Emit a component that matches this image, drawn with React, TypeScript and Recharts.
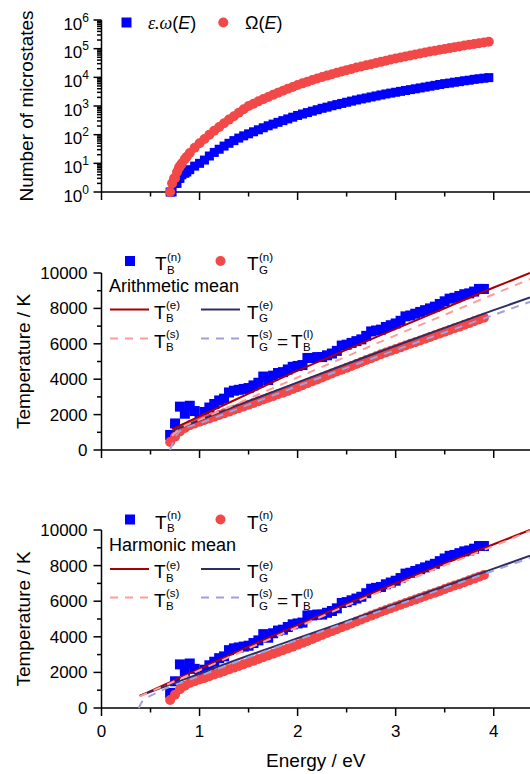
import { ComposedChart, Scatter, Line, XAxis, YAxis, Legend } from 'recharts'

const FONT = '"Liberation Sans", Arial, sans-serif'
const BLUE = '#0000FF'
const RED = '#F24848'
const DARK_RED = '#A80000'
const NAVY = '#2E2E64'
const PINK = '#FF9B9B'
const LAVENDER = '#A0A0DC'
const X_MAX = 4.37

const X_TICKS = [0, 0.5, 1, 1.5, 2, 2.5, 3, 3.5, 4]
const T_TICKS = [0, 1000, 2000, 3000, 4000, 5000, 6000, 7000, 8000, 9000, 10000]
const DECADES = [1, 10, 100, 1000, 10000, 100000]
const LOG_TICKS = [...DECADES.flatMap((d) => [1, 2, 3, 4, 5, 6, 7, 8, 9].map((m) => m * d)), 1000000]

// number of microstates
const energyN = [
  0.7, 0.75, 0.8, 0.85, 0.9, 0.95, 1, 1.05, 1.1, 1.15, 1.2, 1.25, 1.3, 1.35, 1.4, 1.45, 1.5, 1.55, 1.6, 1.65, 1.7, 1.75,
  1.8, 1.85, 1.9, 1.95, 2, 2.05, 2.1, 2.15, 2.2, 2.25, 2.3, 2.35, 2.4, 2.45, 2.5, 2.55, 2.6, 2.65, 2.7, 2.75, 2.8, 2.85,
  2.9, 2.95, 3, 3.05, 3.1, 3.15, 3.2, 3.25, 3.3, 3.35, 3.4, 3.45, 3.5, 3.55, 3.6, 3.65, 3.7, 3.75, 3.8, 3.85, 3.9, 3.95,
]
const epsOmega = [
  1, 2, 3, 4.5, 6, 8, 10, 13, 18, 24, 31, 40, 50, 62, 76, 91, 107, 126, 148, 174, 204, 234, 269, 309, 355, 407, 468, 525,
  589, 661, 741, 832, 912, 1020, 1120, 1230, 1350, 1480, 1620, 1760, 1900, 2070, 2240, 2430, 2630, 2820, 3020, 3240,
  3470, 3720, 3980, 4270, 4570, 4900, 5250, 5620, 6030, 6310, 6760, 7080, 7590, 7940, 8510, 8910, 9330, 9770,
]
const omegaE = [
  1, 3, 8, 14, 23, 35, 50, 71, 100, 138, 186, 251, 335, 442, 582, 767, 1000, 1200, 1450, 1740, 2070, 2450, 2880, 3390,
  3980, 4620, 5370, 6170, 7080, 8040, 9120, 10200, 11500, 12900, 14500, 16000, 17800, 19700, 21900, 24000, 26300,
  28800, 31600, 34700, 38000, 41700, 45200, 49000, 53100, 57500, 62400, 67600, 73300, 79400, 85100, 91200, 97700,
  104700, 112200, 120200, 128800, 138000, 146200, 154900, 164100, 173800,
]
// extra points near the threshold, where the markers crowd together
const energyStart = [0.72, 0.74, 0.77, 0.79, 0.82, 0.87]
const epsOmegaStart = [1, 2, 2, 3, 4, 5]
const omegaStart = [2, 3, 5, 7, 10, 17]

// temperatures from the numerical derivative
const energyT = energyN.slice(0, 65)
const tBn = [
  850, 1500, 2450, 2050, 2500, 2200, 1700, 2150, 2400, 2600, 2800, 2900, 3250, 3350, 3400, 3450, 3500, 3650, 3800, 4150,
  3950, 4200, 4350, 4400, 4550, 4700, 4750, 4800, 5200, 5200, 5250, 5250, 5350, 5450, 5600, 5900, 5950, 6050, 6150,
  6250, 6450, 6700, 6750, 6800, 6950, 7050, 7150, 7300, 7550, 7600, 7700, 7800, 7900, 8000, 8100, 8250, 8400, 8550,
  8600, 8700, 8800, 8850, 8950, 9100, 9100,
]
const tGn = [
  450, 750, 1050, 1250, 1400, 1500, 1600, 1690, 1780, 1880, 1975, 2070, 2170, 2270, 2365, 2460, 2560, 2655, 2755, 2850,
  2950, 3045, 3145, 3240, 3340, 3445, 3550, 3660, 3770, 3880, 3990, 4100, 4210, 4320, 4430, 4535, 4640, 4750, 4860,
  4970, 5080, 5190, 5300, 5410, 5510, 5610, 5700, 5800, 5900, 6000, 6090, 6190, 6290, 6390, 6480, 6580, 6680, 6780,
  6880, 6970, 7070, 7170, 7270, 7370, 7470,
]

// fits, arithmetic mean
const fitE_A = [0.72, 1, 1.5, 2, 2.5, 3, 3.5, 4, 4.37]
const tBe_A = [1180, 1900, 3190, 4480, 5670, 6840, 8010, 9180, 10000]
const tGe_A = [1080, 1680, 2760, 3820, 4860, 5880, 6900, 7900, 8620]
const sE_A = [0.72, 0.8, 1, 1.5, 2, 2.5, 3, 3.5, 4, 4.37]
const tBs_A = [800, 1200, 1700, 2900, 4100, 5290, 6480, 7640, 8800, 9660]
const lE_A = [0.7, 0.72, 0.75, 0.8, 1, 1.5, 2, 2.5, 3, 3.5, 4, 4.37]
const tGs_A = [0, 300, 700, 1080, 1500, 2560, 3610, 4640, 5650, 6640, 7630, 8370]

// fits, harmonic mean
const fitE_H = [0.39, 1, 1.5, 2, 2.5, 3, 3.5, 4, 4.37]
const tBe_H = [680, 2200, 3450, 4660, 5850, 7010, 8120, 9200, 10000]
const tGe_H = [680, 1930, 2950, 3920, 4880, 5850, 6840, 7830, 8550]
const tBs_H = [650, 2120, 3350, 4550, 5750, 6900, 8020, 9100, 9950]
const lE_H = [0.38, 0.42, 0.46, 0.6, 1, 1.5, 2, 2.5, 3, 3.5, 4, 4.37]
const tGs_H = [0, 400, 560, 950, 1800, 2850, 3830, 4800, 5760, 6740, 7720, 8430]

const pts = (xs: number[], ys: number[]) => xs.map((x, i) => ({ x, y: ys[i] }))

const XTick = (props: any) => {
  const { x, y, payload, showLabel } = props
  const v = payload.value
  const major = Number.isInteger(v)
  return (
    <g>
      <line x1={x} y1={y} x2={x} y2={y + (major ? 8 : 4.5)} stroke="#000" strokeWidth={1.5} />
      {showLabel && major && (
        <text x={x} y={y + 28.5} textAnchor="middle" fontSize={17} fill="#000">
          {v}
        </text>
      )}
    </g>
  )
}

const TTick = (props: any) => {
  const { x, y, payload } = props
  const v = payload.value
  const major = v % 2000 === 0
  return (
    <g>
      <line x1={x - (major ? 8 : 4.5)} y1={y} x2={x} y2={y} stroke="#000" strokeWidth={1.5} />
      {major && (
        <text x={x - 14} y={y + 6} textAnchor="end" fontSize={17} fill="#000">
          {v}
        </text>
      )}
    </g>
  )
}

const LogTick = (props: any) => {
  const { x, y, payload } = props
  const v = payload.value
  const e = Math.round(Math.log10(v))
  const major = Math.abs(v - 10 ** e) < 1e-6 * v
  return (
    <g>
      <line x1={x - (major ? 8 : 4.5)} y1={y} x2={x} y2={y} stroke="#000" strokeWidth={1.5} />
      {major && (
        <text x={x - 12.5} y={y + 9.5} textAnchor="end" fontSize={17} fill="#000">
          <tspan>10</tspan>
          <tspan dy={-8} fontSize={12}>
            {e}
          </tspan>
        </text>
      )}
    </g>
  )
}

const yTitle = (text: string, bx: number) => (props: any) => {
  const vb = props.viewBox ?? { x: 0, y: 0, width: 0, height: 0 }
  const cy = vb.y + vb.height / 2
  return (
    <text x={bx} y={cy} transform={`rotate(-90 ${bx} ${cy})`} textAnchor="middle" fontSize={19} fill="#000">
      {text}
    </text>
  )
}

const xTitle = (props: any) => {
  const vb = props.viewBox ?? { x: 0, y: 0, width: 0, height: 0 }
  return (
    <text x={vb.x + vb.width / 2} y={vb.y + 59} textAnchor="middle" fontSize={19} fill="#000">
      Energy / eV
    </text>
  )
}

const Square = (size: number) => (p: any) => (
  <rect x={p.cx - size / 2} y={p.cy - size / 2} width={size} height={size} fill={BLUE} />
)
const Dot = (p: any) => <circle cx={p.cx} cy={p.cy} r={5} fill={RED} />

// Origin-style T with stacked super- and subscript
const TSym = ({ x, y, sup, sub }: { x: number; y: number; sup: string; sub: string }) => (
  <g>
    <text x={x} y={y + 9} fontSize={19}>
      T
    </text>
    <text x={x + 12} y={y - 0.5} fontSize={11.5}>
      ({sup})
    </text>
    <text x={x + 12} y={y + 12.5} fontSize={11.5}>
      {sub}
    </text>
  </g>
)

const TopLegend = () => (
  <svg width={530} height={215} style={{ display: 'block', fontFamily: FONT }}>
    <rect x={121.5} y={17.5} width={10} height={10} fill={BLUE} />
    <text x={148} y={29.3} fontSize={18}>
      <tspan fontFamily='"Liberation Serif", serif' fontStyle="italic">
        ε.ω
      </tspan>
      (<tspan fontStyle="italic">E</tspan>)
    </text>
    <circle cx={223.3} cy={22.5} r={5} fill={RED} />
    <text x={245} y={29.3} fontSize={18}>
      Ω(<tspan fontStyle="italic">E</tspan>)
    </text>
  </svg>
)

const TempLegend = ({ rows, title, h }: { rows: number[]; title: string; h: number }) => (
  <svg width={530} height={h} style={{ display: 'block', fontFamily: FONT }}>
    <rect x={125} y={rows[0] - 5} width={10} height={10} fill={BLUE} />
    <TSym x={155} y={rows[0]} sup="n" sub="B" />
    <circle cx={220.5} cy={rows[0]} r={5} fill={RED} />
    <TSym x={247} y={rows[0]} sup="n" sub="G" />
    <text x={109} y={rows[1]} fontSize={18}>
      {title}
    </text>
    <line x1={110} x2={149} y1={rows[2]} y2={rows[2]} stroke={DARK_RED} strokeWidth={2} />
    <TSym x={154} y={rows[2]} sup="e" sub="B" />
    <line x1={201} x2={240} y1={rows[2]} y2={rows[2]} stroke={NAVY} strokeWidth={2} />
    <TSym x={247} y={rows[2]} sup="e" sub="G" />
    <line x1={110} x2={149} y1={rows[3]} y2={rows[3]} stroke={PINK} strokeWidth={2} strokeDasharray="8 7" />
    <TSym x={154} y={rows[3]} sup="s" sub="B" />
    <line x1={201} x2={240} y1={rows[3]} y2={rows[3]} stroke={LAVENDER} strokeWidth={2} strokeDasharray="8 7" />
    <TSym x={247} y={rows[3]} sup="s" sub="G" />
    <text x={277} y={rows[3] + 9} fontSize={19}>
      =
    </text>
    <TSym x={291} y={rows[3]} sup="l" sub="B" />
  </svg>
)

const legendProps = { layout: 'vertical' as const, align: 'center' as const, verticalAlign: 'middle' as const }
const lineProps = { dataKey: 'y', type: 'monotone' as const, strokeWidth: 2, dot: false, activeDot: false, isAnimationActive: false, zIndex: 700 }

const TopChart = () => (
  <ComposedChart width={530} height={215} margin={{ top: 20, right: 0, bottom: 0, left: 0 }}>
    <XAxis
      type="number"
      dataKey="x"
      domain={[0, X_MAX]}
      ticks={X_TICKS}
      interval={0}
      tickSize={0}
      tickMargin={0}
      tickLine={false}
      tick={<XTick showLabel={false} />}
      axisLine={{ stroke: '#000', strokeWidth: 1.5 }}
      height={23}
    />
    <YAxis
      type="number"
      dataKey="y"
      scale="log"
      domain={[1, 1000000]}
      ticks={LOG_TICKS}
      interval={0}
      tickSize={0}
      tickMargin={0}
      tickLine={false}
      tick={<LogTick />}
      axisLine={{ stroke: '#000', strokeWidth: 1.5 }}
      width={101.5}
      label={yTitle('Number of microstates', 33)}
    />
    <Scatter data={pts(energyStart, epsOmegaStart)} shape={Square(9)} isAnimationActive={false} />
    <Scatter data={pts(energyN, epsOmega)} shape={Square(9)} isAnimationActive={false} />
    <Scatter data={pts(energyStart, omegaStart)} shape={Dot} isAnimationActive={false} />
    <Scatter data={pts(energyN, omegaE)} shape={Dot} isAnimationActive={false} />
    <Legend {...legendProps} content={() => <TopLegend />} wrapperStyle={{ left: 0, top: 0, width: 530, height: 215 }} />
  </ComposedChart>
)

const TempChart = (p: {
  h: number
  top: number
  axisH: number
  title: string
  rows: number[]
  bE: number[]
  bE_y: number[]
  gE_y: number[]
  sE: number[]
  bS_y: number[]
  lE: number[]
  gS_y: number[]
  showX: boolean
}) => (
  <ComposedChart width={530} height={p.h} margin={{ top: p.top, right: 0, bottom: 0, left: 0 }}>
    <XAxis
      type="number"
      dataKey="x"
      domain={[0, X_MAX]}
      ticks={X_TICKS}
      interval={0}
      tickSize={0}
      tickMargin={0}
      tickLine={false}
      tick={<XTick showLabel={p.showX} />}
      axisLine={{ stroke: '#000', strokeWidth: 1.5 }}
      height={p.axisH}
      label={p.showX ? xTitle : undefined}
    />
    <YAxis
      type="number"
      dataKey="y"
      domain={[0, 10000]}
      ticks={T_TICKS}
      interval={0}
      tickSize={0}
      tickMargin={0}
      tickLine={false}
      tick={<TTick />}
      axisLine={{ stroke: '#000', strokeWidth: 1.5 }}
      width={101.5}
      label={yTitle('Temperature / K', 30)}
    />
    <Scatter data={pts(energyT, tBn)} shape={Square(10)} isAnimationActive={false} />
    <Scatter data={pts(energyT, tGn)} shape={Dot} isAnimationActive={false} />
    <Line {...lineProps} data={pts(p.bE, p.bE_y)} stroke={DARK_RED} />
    <Line {...lineProps} data={pts(p.bE, p.gE_y)} stroke={NAVY} />
    <Line {...lineProps} data={pts(p.sE, p.bS_y)} stroke={PINK} strokeDasharray="8 7" />
    <Line {...lineProps} data={pts(p.lE, p.gS_y)} stroke={LAVENDER} strokeDasharray="8 7" />
    <Legend
      {...legendProps}
      content={() => <TempLegend rows={p.rows} title={p.title} h={p.h} />}
      wrapperStyle={{ left: 0, top: 0, width: 530, height: p.h }}
    />
  </ComposedChart>
)

export default function App() {
  return (
    <div style={{ position: 'absolute', left: 0, top: 0, width: 530, height: 774, background: '#fff', fontFamily: FONT }}>
      <div style={{ position: 'absolute', left: 0, top: 0 }}>
        <TopChart />
      </div>
      <div style={{ position: 'absolute', left: 0, top: 215 }}>
        <TempChart
          h={245}
          top={58}
          axisH={10}
          title="Arithmetic mean"
          rows={[46, 77, 94.5, 123.5]}
          bE={fitE_A}
          bE_y={tBe_A}
          gE_y={tGe_A}
          sE={sE_A}
          bS_y={tBs_A}
          lE={lE_A}
          gS_y={tGs_A}
          showX={false}
        />
      </div>
      <div style={{ position: 'absolute', left: 0, top: 460 }}>
        <TempChart
          h={314}
          top={70}
          axisH={66}
          title="Harmonic mean"
          rows={[59.5, 91, 109, 137.5]}
          bE={fitE_H}
          bE_y={tBe_H}
          gE_y={tGe_H}
          sE={fitE_H}
          bS_y={tBs_H}
          lE={lE_H}
          gS_y={tGs_H}
          showX={true}
        />
      </div>
    </div>
  )
}
